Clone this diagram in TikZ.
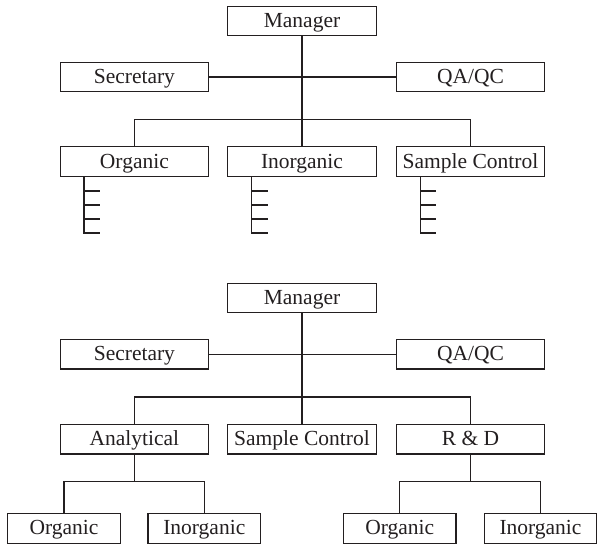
\documentclass[tikz,border=0pt]{standalone}
\usepackage{fontspec}
\setmainfont{Liberation Serif}
\definecolor{ink}{RGB}{35,31,32}
\begin{document}
\begin{tikzpicture}[x=1pt,y=-1pt,
  box/.style={draw=ink,line width=1.2pt,minimum width=148.5pt,minimum height=29.5pt,inner sep=0pt,
    font=\fontsize{21.5}{24}\selectfont,text=ink,text height=15.5pt,text depth=2.5pt},
  sbox/.style={box,minimum width=112.5pt,minimum height=29.5pt},
  link/.style={draw=ink,line width=1.2pt},
  comb/.style={draw=ink,line width=1.2pt}]
\useasboundingbox (0,0) rectangle (602,551);
% ---- top chart ----
\node[box] (m1) at (302,21) {Manager};
\node[box] (sec1) at (134.4,77) {Secretary};
\node[box] (qa1) at (470.5,77) {QA/QC};
\node[box] (o1) at (134.4,161.6) {Organic};
\node[box] (i1) at (302,161.6) {Inorganic};
\node[box] (sc1) at (470.5,161.6) {Sample Control};
\coordinate (b1) at (302,119.3);
\draw[link] (m1.south) -- (i1.north);
\draw[link] (sec1.east) -- (qa1.west);
\draw[link] (o1.north) |- (b1) -| (sc1.north);
\foreach \n in {o1,i1,sc1}{
  \draw[comb] ([xshift=24.5pt]\n.south west) -- ++(0,56) -- ++(16,0)
     ++(-16,-14) -- ++(16,0) ++(-16,-14) -- ++(16,0) ++(-16,-14) -- ++(16,0);
}
% ---- bottom chart ----
\node[box] (m2) at (302,298) {Manager};
\node[box] (sec2) at (134.4,354.3) {Secretary};
\node[box] (qa2) at (470.5,354.3) {QA/QC};
\node[box] (an) at (134.4,439.2) {Analytical};
\node[box] (sc2) at (302,439.2) {Sample Control};
\node[box] (rd) at (470.5,439.2) {R \& D};
\node[sbox] (oa) at (64,528.4) {Organic};
\node[sbox] (ia) at (204.3,528.4) {Inorganic};
\node[sbox] (or) at (399.7,528.4) {Organic};
\node[sbox] (ir) at (540.5,528.4) {Inorganic};
\coordinate (b2) at (302,397);
\coordinate (ba) at (134.4,481.5);
\coordinate (br) at (470.5,481.5);
\draw[link] (m2.south) -- (sc2.north);
\draw[link] (sec2.east) -- (qa2.west);
\draw[link] (an.north) |- (b2) -| (rd.north);
\draw[link] (an.south) -- (ba);
\draw[link] (oa.north) |- (ba) -| (ia.north);
\draw[link] (rd.south) -- (br);
\draw[link] (or.north) |- (br) -| (ir.north);
\end{tikzpicture}
\end{document}
